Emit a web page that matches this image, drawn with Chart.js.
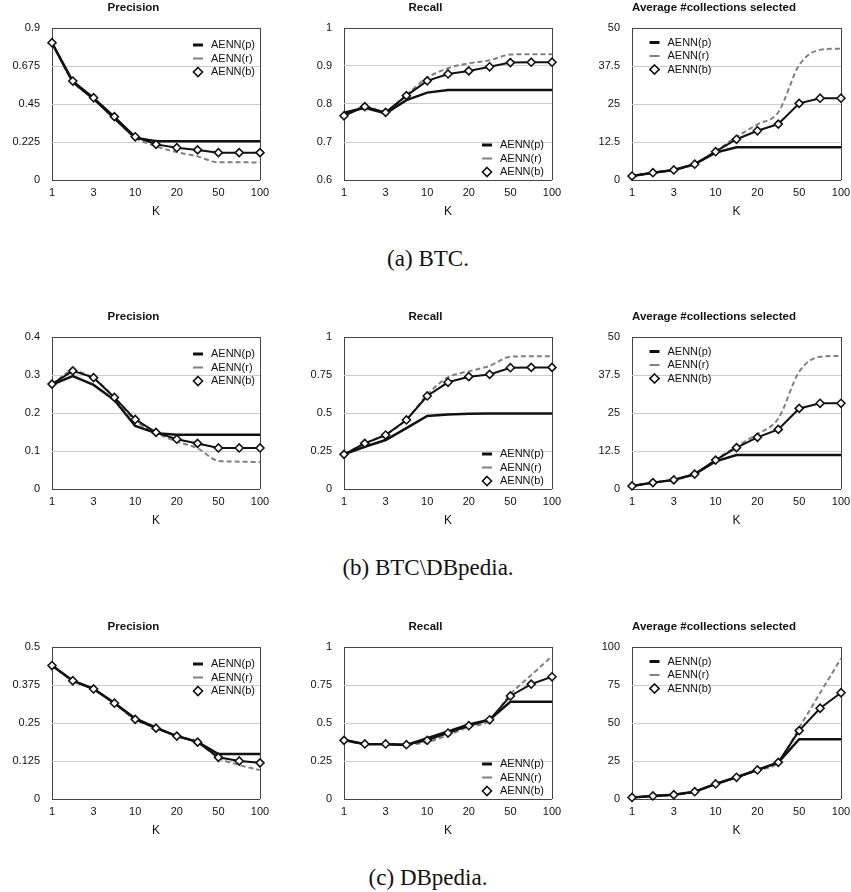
<!DOCTYPE html>
<html>
<head>
<meta charset="utf-8">
<script src="https://cdn.jsdelivr.net/npm/chart.js@4.4.1/dist/chart.umd.min.js"></script>
<style>
  html, body { margin: 0; padding: 0; background: #fff; overflow: hidden; }
  body { width: 851px; height: 892px; position: relative; }
  canvas { position: absolute; }
  .cap { position: absolute; font-family: "Liberation Serif", "DejaVu Serif", serif; font-size: 23px;
         color: #111; transform: translate(-50%, -50%); white-space: nowrap; }
</style>
</head>
<body>
<div class="cap" style="left:428px; top:259px">(a) BTC.</div>
<div class="cap" style="left:428px; top:568px">(b) BTC\DBpedia.</div>
<div class="cap" style="left:428px; top:878px">(c) DBpedia.</div>
<script>
const kLabels = ['1', '2', '3', '5', '10', '15', '20', '30', '50', '70', '100'];
const seriesNames = ['AENN(p)', 'AENN(r)', 'AENN(b)'];

// (a) BTC
const btcPrecP = [0.81, 0.58, 0.48, 0.365, 0.25, 0.229, 0.229, 0.229, 0.229, 0.229, 0.229];
const btcPrecR = [0.81, 0.585, 0.485, 0.37, 0.25, 0.2, 0.165, 0.14, 0.105, 0.105, 0.103];
const btcPrecB = [0.813, 0.586, 0.487, 0.375, 0.256, 0.211, 0.191, 0.178, 0.162, 0.162, 0.162];
const btcRecP = [0.777, 0.79, 0.775, 0.81, 0.83, 0.837, 0.837, 0.837, 0.837, 0.837, 0.837];
const btcRecR = [0.77, 0.793, 0.778, 0.824, 0.869, 0.894, 0.907, 0.915, 0.93, 0.931, 0.931];
const btcRecB = [0.769, 0.793, 0.778, 0.822, 0.861, 0.879, 0.887, 0.898, 0.909, 0.91, 0.91];
const btcAvgP = [1.3, 2.4, 3.3, 5.2, 9.0, 10.8, 10.8, 10.8, 10.8, 10.8, 10.8];
const btcAvgR = [1.3, 2.4, 3.3, 5.2, 9.5, 14.2, 18.3, 22.3, 37.8, 42.8, 43.2];
const btcAvgB = [1.3, 2.4, 3.3, 5.2, 9.3, 13.4, 16.2, 18.4, 25.2, 26.9, 26.9];

// (b) BTC\DBpedia
const mixPrecP = [0.275, 0.297, 0.274, 0.234, 0.166, 0.147, 0.143, 0.143, 0.143, 0.143, 0.143];
const mixPrecR = [0.275, 0.31, 0.291, 0.24, 0.18, 0.148, 0.125, 0.107, 0.074, 0.072, 0.071];
const mixPrecB = [0.276, 0.311, 0.293, 0.241, 0.183, 0.149, 0.131, 0.12, 0.108, 0.108, 0.108];
const mixRecP = [0.228, 0.278, 0.322, 0.4, 0.48, 0.49, 0.495, 0.497, 0.497, 0.497, 0.497];
const mixRecR = [0.228, 0.3, 0.357, 0.457, 0.62, 0.735, 0.774, 0.81, 0.87, 0.873, 0.873];
const mixRecB = [0.228, 0.3, 0.355, 0.454, 0.612, 0.702, 0.739, 0.754, 0.798, 0.8, 0.8];
const mixAvgP = [1.0, 2.1, 3.0, 4.9, 9.1, 11.2, 11.2, 11.2, 11.2, 11.2, 11.2];
const mixAvgR = [1.0, 2.1, 3.0, 4.9, 9.6, 14.0, 18.1, 23.2, 38.6, 43.5, 43.8];
const mixAvgB = [1.0, 2.1, 3.0, 4.9, 9.5, 13.6, 17.0, 19.6, 26.5, 28.2, 28.2];

// (c) DBpedia
const dbpPrecP = [0.439, 0.389, 0.362, 0.316, 0.265, 0.235, 0.207, 0.188, 0.148, 0.148, 0.148];
const dbpPrecR = [0.439, 0.389, 0.362, 0.315, 0.262, 0.233, 0.207, 0.187, 0.135, 0.112, 0.095];
const dbpPrecB = [0.439, 0.389, 0.362, 0.315, 0.262, 0.233, 0.207, 0.187, 0.137, 0.125, 0.119];
const dbpRecP = [0.39, 0.36, 0.36, 0.355, 0.4, 0.445, 0.49, 0.522, 0.64, 0.64, 0.64];
const dbpRecR = [0.386, 0.362, 0.362, 0.357, 0.375, 0.42, 0.475, 0.515, 0.69, 0.815, 0.94];
const dbpRecB = [0.386, 0.362, 0.362, 0.357, 0.386, 0.434, 0.482, 0.521, 0.678, 0.756, 0.804];
const dbpAvgP = [1, 2, 2.8, 4.8, 9.9, 14.3, 19.1, 24.1, 39.3, 39.3, 39.3];
const dbpAvgR = [1, 2, 2.8, 4.8, 9.9, 14.3, 19.1, 24.1, 46.9, 69.7, 92.5];
const dbpAvgB = [1, 2, 2.8, 4.8, 9.9, 14.3, 19.1, 24.1, 45, 59.7, 69.9];

const PREC = 'Precision', REC = 'Recall', AVG = 'Average #collections selected';

const panels = [
  { row: 0, col: 0, title: PREC, p: btcPrecP, r: btcPrecR, b: btcPrecB, min: 0, max: 0.9, leg: 'tr' },
  { row: 0, col: 1, title: REC, p: btcRecP, r: btcRecR, b: btcRecB, min: 0.6, max: 1, leg: 'br' },
  { row: 0, col: 2, title: AVG, p: btcAvgP, r: btcAvgR, b: btcAvgB, min: 0, max: 50, leg: 'tl' },
  { row: 1, col: 0, title: PREC, p: mixPrecP, r: mixPrecR, b: mixPrecB, min: 0, max: 0.4, leg: 'tr' },
  { row: 1, col: 1, title: REC, p: mixRecP, r: mixRecR, b: mixRecB, min: 0, max: 1, leg: 'br' },
  { row: 1, col: 2, title: AVG, p: mixAvgP, r: mixAvgR, b: mixAvgB, min: 0, max: 50, leg: 'tl' },
  { row: 2, col: 0, title: PREC, p: dbpPrecP, r: dbpPrecR, b: dbpPrecB, min: 0, max: 0.5, leg: 'tr' },
  { row: 2, col: 1, title: REC, p: dbpRecP, r: dbpRecR, b: dbpRecB, min: 0, max: 1, leg: 'br' },
  { row: 2, col: 2, title: AVG, p: dbpAvgP, r: dbpAvgR, b: dbpAvgB, min: 0, max: 100, leg: 'tl' },
];

// plot-area geometry
const colLeft = [52, 344, 632], colWidth = [208, 208, 209];
const rowTop = [28, 337, 647], plotH = 152;
const AXIS_W = 45, TOP_SPACE = 27, X_AXIS_H = 39;

const INK = '#111', GRID = '#cccccc', FRAME = '#444444', GREY = '#808080';

Chart.defaults.font.family = '"Liberation Sans", Arial, Helvetica, sans-serif';
Chart.defaults.color = INK;

const insideLegend = {
  id: 'insideLegend',
  afterDatasetsDraw(chart, args, opts) {
    const { ctx, chartArea: a } = chart;
    let mx, y0;
    if (opts.corner === 'tr') { mx = a.right - 62; y0 = a.top + 17; }
    else if (opts.corner === 'br') { mx = a.right - 65; y0 = a.bottom - 35; }
    else { mx = a.left + 22.5; y0 = a.top + 14.5; }
    const step = 13.5;
    ctx.save();
    ctx.setLineDash([]);
    ctx.font = '11px "Liberation Sans", Arial, sans-serif';
    ctx.textBaseline = 'middle';
    ctx.textAlign = 'left';
    seriesNames.forEach((name, i) => {
      const y = y0 + i * step;
      ctx.beginPath();
      if (i === 0) { ctx.strokeStyle = INK; ctx.lineWidth = 3; }
      else if (i === 1) { ctx.strokeStyle = GREY; ctx.lineWidth = 2; }
      else { ctx.strokeStyle = INK; ctx.lineWidth = 2; }
      ctx.moveTo(mx - 5, y); ctx.lineTo(mx + 5, y); ctx.stroke();
      if (i === 2) {
        ctx.beginPath();
        ctx.moveTo(mx, y - 4.5); ctx.lineTo(mx + 4.5, y); ctx.lineTo(mx, y + 4.5); ctx.lineTo(mx - 4.5, y);
        ctx.closePath();
        ctx.fillStyle = '#fff'; ctx.fill();
        ctx.lineWidth = 1.6; ctx.strokeStyle = INK; ctx.stroke();
      }
      ctx.fillStyle = INK;
      ctx.fillText(name, mx + 13, y);
    });
    ctx.restore();
  }
};

function fmt(v) { return String(+Number(v).toFixed(4)); }

panels.forEach(pn => {
  const w = colWidth[pn.col] + 2 * AXIS_W;
  const h = TOP_SPACE + plotH + X_AXIS_H;
  const cv = document.createElement('canvas');
  cv.width = w; cv.height = h;
  cv.style.left = (colLeft[pn.col] - AXIS_W) + 'px';
  cv.style.top = (rowTop[pn.row] - TOP_SPACE) + 'px';
  cv.style.width = w + 'px'; cv.style.height = h + 'px';
  document.body.appendChild(cv);

  new Chart(cv, {
    type: 'line',
    data: {
      labels: kLabels,
      datasets: [
        { label: seriesNames[0], data: pn.p, borderColor: INK, borderWidth: 2.5, pointRadius: 0, order: 1, clip: false },
        { label: seriesNames[1], data: pn.r, borderColor: GREY, borderWidth: 2, borderDash: [5, 3], pointRadius: 0,
          cubicInterpolationMode: 'monotone', order: 2, clip: false },
        { label: seriesNames[2], data: pn.b, borderColor: INK, borderWidth: 2, pointStyle: 'rectRot', pointRadius: 4,
          pointBackgroundColor: '#fff', pointBorderColor: INK, pointBorderWidth: 1.6, order: 0, clip: false },
      ],
    },
    options: {
      responsive: false,
      animation: false,
      events: [],
      layout: { padding: { left: 0, right: AXIS_W, top: 0, bottom: 0 } },
      plugins: {
        legend: { display: false },
        tooltip: { enabled: false },
        title: { display: true, text: pn.title, color: INK,
                 font: { size: 11.5, weight: 'bold', lineHeight: '14px' }, padding: { top: 0, bottom: 13 } },
        insideLegend: { corner: pn.leg },
      },
      scales: {
        x: {
          offset: false,
          grid: { drawTicks: false, lineWidth: 1,
                  color: c => (c.index === 0 || c.index === kLabels.length - 1) ? FRAME : 'rgba(0,0,0,0)' },
          border: { display: false },
          ticks: { autoSkip: false, maxRotation: 0, padding: 6, font: { size: 11 }, color: INK,
                   callback: (v, i) => (i % 2 === 0 ? kLabels[i] : '') },
          title: { display: true, text: 'K', font: { size: 12, lineHeight: '14px' }, padding: { top: 0, bottom: 0 }, color: INK },
          afterFit: s => { s.height = X_AXIS_H; },
        },
        y: {
          min: pn.min, max: pn.max,
          grid: { drawTicks: false, lineWidth: 1,
                  color: c => (c.tick && (Math.abs(c.tick.value - pn.min) < 1e-9 || Math.abs(c.tick.value - pn.max) < 1e-9)) ? FRAME : GRID },
          border: { display: false },
          ticks: { stepSize: (pn.max - pn.min) / 4, padding: 12, font: { size: 11 }, color: INK, callback: v => fmt(v) },
          afterFit: s => { s.width = AXIS_W; },
        },
      },
    },
    plugins: [insideLegend],
  });
});
</script>
</body>
</html>
